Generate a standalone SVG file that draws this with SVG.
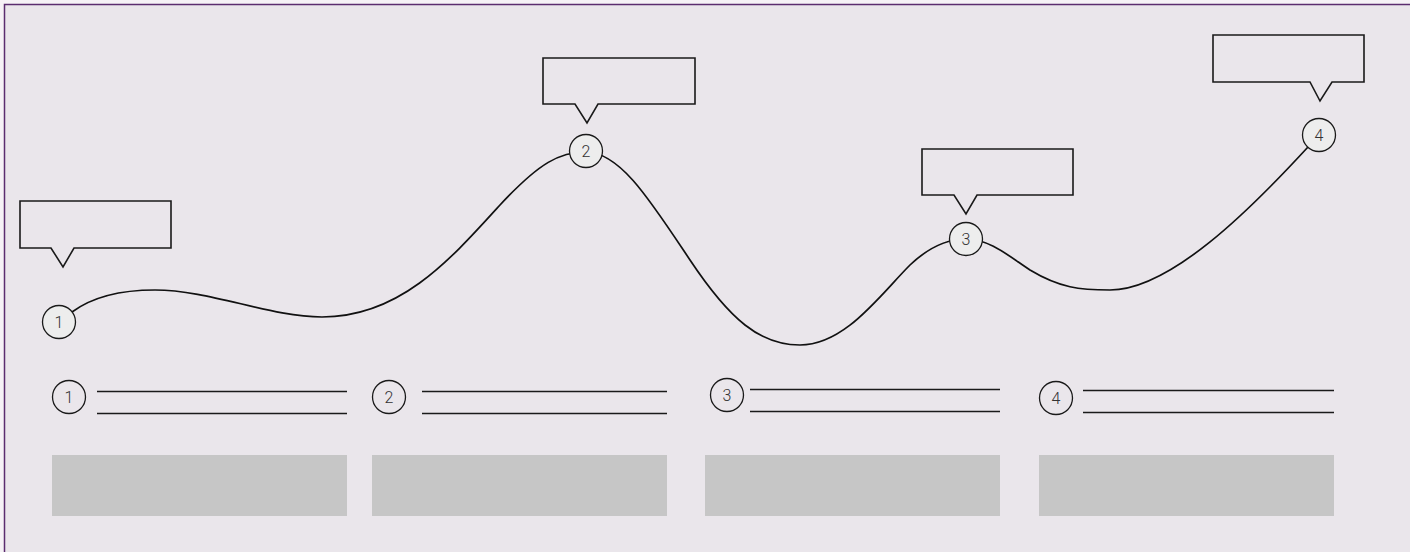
<svg xmlns="http://www.w3.org/2000/svg" width="1410" height="552" viewBox="0 0 1410 552">
<style>
.frame{fill:#eae6eb;stroke:#5b2d6f;stroke-width:1.5}
.callout{fill:#eae6eb;stroke:#1a1a1a;stroke-width:1.6;stroke-linejoin:miter}
.pt{fill:#ededed;stroke:#1a1a1a;stroke-width:1.3}
.num{fill:none;stroke:#1a1a1a;stroke-width:1.3}
.lbl{font-family:Roboto,"Liberation Sans",sans-serif;font-weight:300;font-size:16px;fill:#333;text-anchor:middle;dominant-baseline:central}
.rule{stroke:#1a1a1a;stroke-width:1.6}
.card{fill:#c6c6c6}
.curve{fill:none;stroke:#111;stroke-width:1.7}
</style>
<rect x="0" y="0" width="1410" height="552" fill="#f6f2f6"/>
<rect class="frame" x="4.5" y="4.5" width="1420" height="560"/>
<g id="connectors">
<path class="curve" d="M72,312 C95,295 125,290 155,290 C210,290 270,317 322,317 C400,317 450,260 500,205 C540,162 560,152 586,152 C620,152 650,200 690,260 C730,320 760,345 800,345 C845,345 880,295 910,265 C930,246 950,239 966,239 C990,239 1010,257 1030,270 C1060,288 1080,290 1110,290 C1170,290 1250,210 1308,147"/>
</g>
<g id="callout1"><path class="callout" d="M20,201 H171 V248 H74 L63,267 L51,248 H20 Z"/></g>
<g id="callout2"><path class="callout" d="M543,58 H695 V104 H598 L587,123 L575,104 H543 Z"/></g>
<g id="callout3"><path class="callout" d="M922,149 H1073 V195 H977 L966,214 L954,195 H922 Z"/></g>
<g id="callout4"><path class="callout" d="M1213,35 H1364 V82 H1332 L1320,101 L1310,82 H1213 Z"/></g>
<g id="point1"><circle class="pt" cx="59" cy="322" r="16.5"/><text class="lbl" x="59" y="322">1</text></g>
<g id="point2"><circle class="pt" cx="586" cy="151" r="16.5"/><text class="lbl" x="586" y="151">2</text></g>
<g id="point3"><circle class="pt" cx="966" cy="239" r="16.5"/><text class="lbl" x="966" y="239">3</text></g>
<g id="point4"><circle class="pt" cx="1319" cy="135" r="16.5"/><text class="lbl" x="1319" y="135">4</text></g>
<g id="step1">
<circle class="num" cx="69" cy="397" r="16.5"/><text class="lbl" x="69" y="397">1</text>
<line class="rule" x1="97" y1="391.5" x2="347" y2="391.5"/><line class="rule" x1="97" y1="413.5" x2="347" y2="413.5"/>
<rect class="card" x="52" y="455" width="295" height="61"/>
</g>
<g id="step2">
<circle class="num" cx="389" cy="397" r="16.5"/><text class="lbl" x="389" y="397">2</text>
<line class="rule" x1="422" y1="391.5" x2="667" y2="391.5"/><line class="rule" x1="422" y1="413.5" x2="667" y2="413.5"/>
<rect class="card" x="372" y="455" width="295" height="61"/>
</g>
<g id="step3">
<circle class="num" cx="727" cy="395" r="16.5"/><text class="lbl" x="727" y="395">3</text>
<line class="rule" x1="750" y1="389.5" x2="1000" y2="389.5"/><line class="rule" x1="750" y1="411.5" x2="1000" y2="411.5"/>
<rect class="card" x="705" y="455" width="295" height="61"/>
</g>
<g id="step4">
<circle class="num" cx="1056" cy="398" r="16.5"/><text class="lbl" x="1056" y="398">4</text>
<line class="rule" x1="1083" y1="390.5" x2="1334" y2="390.5"/><line class="rule" x1="1083" y1="412.5" x2="1334" y2="412.5"/>
<rect class="card" x="1039" y="455" width="295" height="61"/>
</g>
</svg>
